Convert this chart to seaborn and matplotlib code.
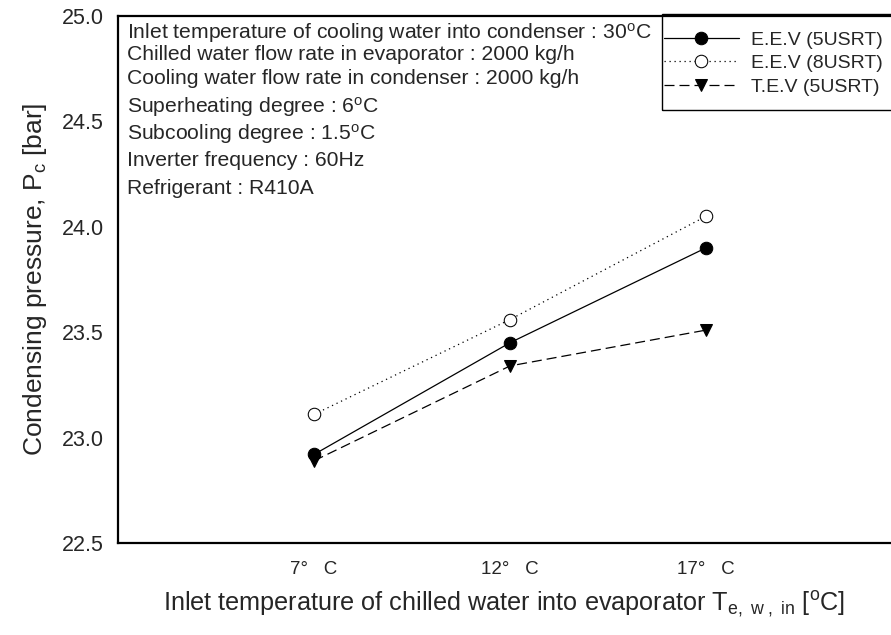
import matplotlib
matplotlib.use("Agg")
import matplotlib.pyplot as plt
from matplotlib.patches import Rectangle
import seaborn as sns
import pandas as pd

# ---- data ----
temps = [7, 12, 17]
tick_labels = ["7°   C", "12°   C", "17°   C"]
eev5 = [22.92, 23.45, 23.90]
eev8 = [23.11, 23.56, 24.05]
tev5 = [22.89, 23.34, 23.51]
series_names = ["E.E.V (5USRT)", "E.E.V (8USRT)", "T.E.V (5USRT)"]
conditions = [
    "Inlet temperature of cooling water into condenser : 30$\\mathregular{^oC}$",
    "Chilled water flow rate in evaporator : 2000 kg/h",
    "Cooling water flow rate in condenser : 2000 kg/h",
    "Superheating degree : 6$\\mathregular{^oC}$",
    "Subcooling degree : 1.5$\\mathregular{^oC}$",
    "Inverter frequency : 60Hz",
    "Refrigerant : R410A",
]

sns.set_style("white")
plt.rcParams["font.family"] = ["Liberation Sans", "DejaVu Sans"]
plt.rcParams["mathtext.fontset"] = "custom"
plt.rcParams["mathtext.rm"] = "Liberation Sans"
plt.rcParams["mathtext.it"] = "Liberation Sans"

df = pd.DataFrame({
    "T": temps * 3,
    "P": eev5 + eev8 + tev5,
    "series": [series_names[0]] * 3 + [series_names[1]] * 3 + [series_names[2]] * 3,
})

W, H = 891, 635
fig = plt.figure(figsize=(W / 100, H / 100), dpi=100)
ax = fig.add_axes([118 / W, 92 / H, 1 - 118 / W, (543 - 16) / H])

styles = [
    dict(linestyle="-", marker="o", mfc="black", mec="black"),
    dict(linestyle=(0, (1, 3)), marker="o", mfc="white", mec="black"),
    dict(linestyle=(0, (8, 4)), marker="v", mfc="black", mec="black"),
]
for name, st in zip(series_names, styles):
    sub = df[df["series"] == name]
    sns.lineplot(data=sub, x="T", y="P", ax=ax, color="black", lw=0.9,
                 markersize=9, label=name, **st)

ax.set_xlim(2, 21.72)
ax.set_ylim(22.5, 25.0)
ax.set_xticks(temps)
ax.set_xticklabels(tick_labels)
ax.set_yticks([22.5, 23.0, 23.5, 24.0, 24.5, 25.0])
ax.set_yticklabels(["22.5", "23.0", "23.5", "24.0", "24.5", "25.0"])
ax.tick_params(direction="in", length=5, width=1.2)
ax.tick_params(axis="y", labelsize=15.5, pad=10)
ax.tick_params(axis="x", labelsize=13.5, pad=13)
for s in ["left", "bottom", "top"]:
    ax.spines[s].set_linewidth(1.6)
    ax.spines[s].set_color("black")
ax.spines["right"].set_visible(False)

ax.set_xlabel("Inlet temperature of chilled water into evaporator T$_{\\mathregular{e,\\ w\\ ,\\ in}}$ [$\\mathregular{^oC}$]",
              fontsize=18.2, labelpad=8)
ax.set_ylabel("Condensing pressure, P$_{\\mathregular{c}}$ [bar]", fontsize=19, labelpad=9)

line_y = [30, 53, 77, 104, 131, 159, 186]
for txt, py in zip(conditions, line_y):
    fig.text(127 / W, 1 - py / H, txt, ha="left", va="center_baseline", fontsize=15.2)

leg = ax.legend(loc="upper left", bbox_to_anchor=(664 / W, 1 - 31 / H),
                bbox_transform=fig.transFigure,
                borderaxespad=0, frameon=False, fontsize=14, borderpad=0,
                handlelength=3.85, labelspacing=0.3, handletextpad=0.6)
fig.patches.append(Rectangle((662 / W, 1 - 110 / H), (W + 5 - 662) / W, 96 / H,
                             transform=fig.transFigure, fill=False,
                             edgecolor="black", linewidth=1.0, zorder=5))

fig.savefig("out.png", dpi=100)
